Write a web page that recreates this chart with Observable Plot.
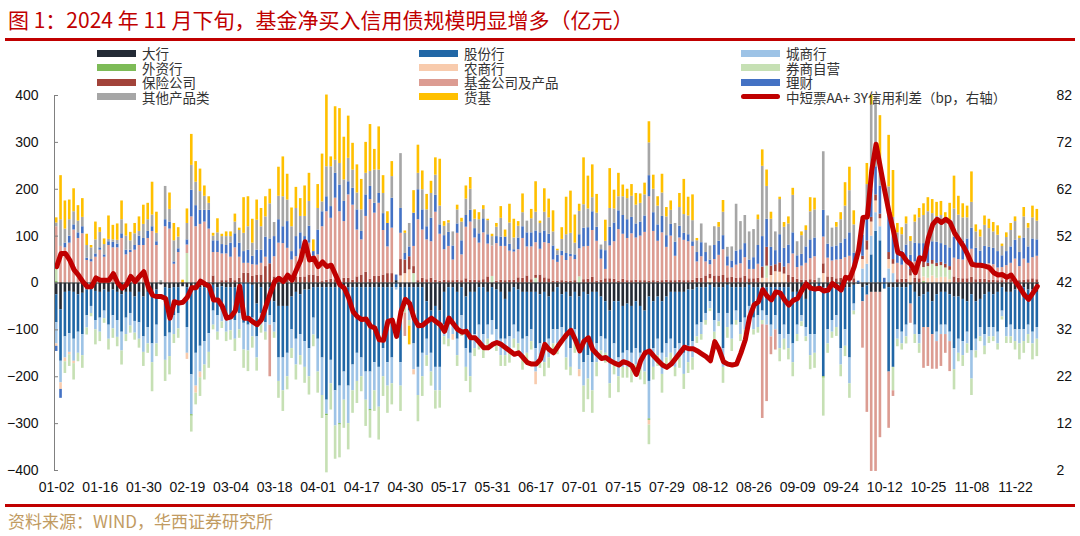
<!DOCTYPE html>
<html>
<head>
<meta charset="utf-8">
<script src="https://cdn.jsdelivr.net/npm/d3@7"></script>
<script src="https://cdn.jsdelivr.net/npm/@observablehq/plot@0.6"></script>
<style>
  html, body { margin: 0; padding: 0; background: #fff; }
  body { width: 1080px; height: 536px; position: relative; overflow: hidden; font-family: "Liberation Sans", Arial, sans-serif; }
  #title { position: absolute; left: 8px; top: 5px; font-family: "Noto Sans CJK SC", sans-serif; font-size: 21px; line-height: 28px; color: #c00000; white-space: nowrap; }
  .redrule { position: absolute; left: 5px; width: 1070px; height: 2.5px; background: #c00000; }
  #chart { position: absolute; left: 0; top: 40px; }
  #legend { position: absolute; left: 97px; top: 46px; display: grid; grid-template-columns: 322px 322px 322px; grid-auto-rows: 14.5px; z-index: 2; }
  .item { display: flex; align-items: center; height: 14.5px; white-space: nowrap; }
  .lab { display: block; height: 14px; line-height: 14px; font-family: "Noto Sans CJK SC", sans-serif; font-size: 13.5px; color: #333; overflow: visible; }
  .sw { width: 39px; height: 7px; margin-right: 6px; flex: none; }
  .swl { width: 39px; height: 5px; border-radius: 3px; margin-right: 6px; flex: none; }
  #source { position: absolute; left: 8px; top: 509px; font-family: "Noto Sans CJK SC", sans-serif; font-size: 17px; line-height: 24px; color: #c19b62; white-space: nowrap; }
</style>
</head>
<body>
<div id="title">图 1：2024 年 11 月下旬，基金净买入信用债规模明显增多（亿元）</div>
<div class="redrule" style="top:38px"></div>
<div id="chart"></div>
<div id="legend"></div>
<div class="redrule" style="top:504px"></div>
<div id="source">资料来源：WIND，华西证券研究所</div>
<script>
// ---------- categories (trading days of the interbank market, 2024) ----------
const dates = ("01-02 01-03 01-04 01-05 01-08 01-09 01-10 01-11 01-12 01-15 01-16 01-17 01-18 01-19 01-22 01-23 01-24 01-25 01-26 01-29 01-30 01-31 " +
"02-01 02-02 02-04 02-05 02-06 02-07 02-08 02-18 02-19 02-20 02-21 02-22 02-23 02-26 02-27 02-28 02-29 " +
"03-01 03-04 03-05 03-06 03-07 03-08 03-11 03-12 03-13 03-14 03-15 03-18 03-19 03-20 03-21 03-22 03-25 03-26 03-27 03-28 03-29 " +
"04-01 04-02 04-03 04-08 04-09 04-10 04-11 04-12 04-15 04-16 04-17 04-18 04-19 04-22 04-23 04-24 04-25 04-26 04-28 04-29 04-30 " +
"05-06 05-07 05-08 05-09 05-10 05-13 05-14 05-15 05-16 05-17 05-20 05-21 05-22 05-23 05-24 05-27 05-28 05-29 05-30 05-31 " +
"06-03 06-04 06-05 06-06 06-07 06-11 06-12 06-13 06-14 06-17 06-18 06-19 06-20 06-21 06-24 06-25 06-26 06-27 06-28 " +
"07-01 07-02 07-03 07-04 07-05 07-08 07-09 07-10 07-11 07-12 07-15 07-16 07-17 07-18 07-19 07-22 07-23 07-24 07-25 07-26 07-29 07-30 07-31 " +
"08-01 08-02 08-05 08-06 08-07 08-08 08-09 08-12 08-13 08-14 08-15 08-16 08-19 08-20 08-21 08-22 08-23 08-26 08-27 08-28 08-29 08-30 " +
"09-02 09-03 09-04 09-05 09-06 09-09 09-10 09-11 09-12 09-13 09-14 09-18 09-19 09-20 09-23 09-24 09-25 09-26 09-27 09-29 09-30 " +
"10-08 10-09 10-10 10-11 10-12 10-14 10-15 10-16 10-17 10-18 10-21 10-22 10-23 10-24 10-25 10-28 10-29 10-30 10-31 " +
"11-01 11-04 11-05 11-06 11-07 11-08 11-11 11-12 11-13 11-14 11-15 11-18 11-19 11-20 11-21 11-22 11-25 11-26 11-27 11-28 11-29").split(" ");

const xTickLabels = ["01-02","01-16","01-30","02-19","03-04","03-18","04-01","04-17","04-30","05-17","05-31","06-17","07-01","07-15","07-29","08-12","08-26","09-09","09-24","10-12","10-25","11-08","11-22"];
const yTicks = [-400, -300, -200, -100, 0, 100, 200, 300, 400];

// ---------- series values (亿元) ----------
const bigBank = [
-25,-57,-20,-18,-20,-25,-22,-15,-10,-18,
-20,-15,-20,-15,-20,-25,-20,-20,-30,-20,
-30,-20,-20,-15,-4,-10,-12,-10,-10,-8,
-10,-10,-10,-10,-10,-8,-5,-10,-8,-10,
-10,-10,-10,0,0,-5,-45,-10,-50,-10,
-40,-50,-50,-50,-30,-20,-25,-15,-15,-10,
-10,-10,-10,-10,-10,-10,-10,-10,-10,-10,
-10,-10,-10,-10,-10,-10,-10,-10,5,-10,
-10,-10,-10,-10,-10,-40,-60,-50,-60,-20,
-10,-10,-20,-10,-30,-20,-20,-10,-10,-20,
-10,-15,-20,-35,-20,-10,-15,-20,-20,-20,
-20,-25,-20,-30,-20,-10,-25,-20,-30,-20,
-30,-20,-25,-20,-20,-30,-40,-60,-40,-40,
-50,-45,-50,-40,-50,-60,-30,-40,-30,-40,
-30,-20,-20,-20,-20,-15,-15,-10,-10,-10,
-5,-10,-10,-10,-5,-10,-10,-10,-10,-5,
-10,-10,-10,-10,-10,-10,-10,-10,-10,-20,
-20,-20,-35,-10,-10,0,-10,-10,-10,-10,
-10,-10,-10,-5,0,-10,-6,-20,-20,-20,
0,-10,-10,-10,-10,-10,-5,-20,-30,-25,
-20,-40,-25,-20,-20,-25,-30,-30,-35,-40,
-25,-40,-35,-25,-20,-25,-20,-10,-20,-20,
-15,-10,-10,-15,-15,-20];

const jointStock = [
-60,-110,-95,-90,-100,-80,-88,-55,-40,-62,
-55,-45,-70,-55,-60,-80,-55,-45,-52,-65,
-85,-75,-110,-75,0,-105,-95,-60,-55,0,
-85,-186,-140,-125,-115,-100,-55,-60,-50,-60,
-60,-70,-55,-86,-90,-70,-70,-55,-35,-60,
-45,-110,-110,-100,-70,-100,-85,-110,-125,-65,
-110,-150,-240,-155,-220,-210,-180,-210,-165,-140,
-150,-180,-180,-160,-170,-130,-160,-150,-10,-160,
-40,-50,-120,-170,-140,-80,-90,-130,-120,-70,
-80,-75,-100,-60,-110,-130,-90,-80,-100,-70,
-70,-85,-100,-85,-95,-80,-90,-100,-95,-80,
-120,-105,-110,-90,-80,-90,-70,-100,-110,-80,
-110,-150,-130,-150,-110,-85,-80,-110,-90,-120,
-100,-100,-100,-100,-100,-90,-180,-100,-90,-110,
-100,-100,-120,-110,-130,-120,-110,-80,-75,-55,
-35,-70,-55,-130,-60,-80,-50,-75,-65,-45,
-65,-60,-50,-60,-80,-60,-100,-80,-100,-110,
-70,-50,-60,-100,-100,-8,-190,-90,-70,-60,
-130,-90,-150,-40,-3,-30,-20,60,110,90,
-13,-180,-170,-90,-95,-80,-40,-70,-80,-70,
-75,-70,-80,-70,-70,-80,-110,-90,-90,-65,
-120,-80,-60,-85,-75,-70,-85,-50,-75,-70,
-85,-90,-90,-75,-90,-75];

const cityBank = [
-45,-46,-45,-40,-47,-45,-45,-26,-15,-20,
-30,-16,-30,-28,-36,-40,-35,-27,-25,-35,
-33,-35,-40,-40,0,-50,-50,-40,-33,0,
-55,-85,-70,-55,-50,-40,-30,-35,-25,-35,
-32,-40,-35,-57,-55,-40,-45,-25,-20,-20,
-20,-50,-70,-50,-40,-55,-45,-55,-60,-36,
-70,-80,-30,-50,-75,-80,-60,-80,-55,-60,
-40,-60,-80,-60,-85,-60,-50,-55,-5,-50,
0,-20,-55,-60,-50,-35,-40,-50,-50,-25,
-30,-25,-35,-30,-40,-50,-30,-33,-30,-30,
-31,-30,-35,-35,-35,-30,-25,-40,-35,-25,
-50,-35,-40,-40,-30,-30,-25,-40,-40,-30,
-45,-50,-50,-60,-40,-30,-30,-45,-40,-40,
-30,-35,-35,-35,-35,-40,-80,-40,-35,-45,
-30,-30,-40,-30,-45,-35,-35,-25,-25,-15,
-15,-25,-18,-40,-30,-30,-20,-25,-25,-15,
-25,-25,-20,-20,-25,-30,-30,-30,-30,-40,
-20,-13,-20,-45,-40,0,0,-30,-25,-25,
-35,-35,-55,-15,0,30,40,40,40,30,
0,30,20,-20,-25,-25,0,-20,-20,0,
0,0,-20,-20,-20,-20,-45,-30,-30,-25,
-60,-25,-20,-25,-20,-20,-25,-12,-20,-25,
-25,-30,-25,-20,-25,-25];

const foreignBank = [
3,0,0,0,0,0,0,0,0,0,
0,0,0,0,0,0,0,0,0,0,
0,0,0,0,0,0,0,0,0,0,
0,-3,0,0,0,0,0,0,0,0,
0,0,0,0,0,0,0,0,0,0,
0,0,0,0,0,0,0,0,0,0,
0,0,-3,0,0,-3,0,0,0,0,
0,0,-3,0,0,0,0,0,0,0,
0,0,0,0,0,0,0,0,0,0,
0,0,0,0,0,0,0,0,0,0,
0,0,0,0,0,0,0,0,0,0,
0,0,0,0,0,0,0,0,0,0,
0,0,0,0,0,0,0,0,0,0,
0,0,0,0,0,0,-3,0,0,0,
0,0,0,0,0,0,0,0,0,0,
0,0,0,0,0,0,0,0,0,0,
0,0,0,0,0,0,0,0,0,0,
0,0,0,0,0,0,-3,0,0,0,
0,0,0,0,0,0,0,0,0,0,
0,0,0,0,0,0,0,0,0,3,
0,0,0,0,0,0,0,0,0,0,
0,0,0,0,0,0,0,0,0,0,
0,0,0,0,0,0];

const ruralBank = [
-5,-14,-8,-5,-5,0,0,0,0,0,
0,0,0,0,0,0,0,0,0,0,
0,0,0,0,0,0,0,0,0,0,
-13,0,-15,-12,0,0,0,0,0,0,
0,0,0,0,0,0,0,0,0,0,
0,0,0,0,0,0,0,0,0,0,
0,0,0,0,0,0,0,0,0,0,
0,0,0,0,0,0,0,0,0,15,
20,28,-11,0,0,0,0,0,0,0,
0,-12,0,0,0,0,0,0,0,0,
0,0,0,0,0,0,0,0,0,0,
-27,0,0,0,0,0,0,0,0,0,
-15,0,0,0,0,0,0,0,0,0,
0,0,0,0,0,0,-10,0,0,0,
0,0,0,0,0,0,0,0,0,0,
9,0,0,0,0,0,0,0,0,0,
0,0,10,10,16,24,23,19,0,0,
0,0,0,0,0,0,20,0,0,0,
0,0,0,0,0,20,30,30,25,17,
0,20,20,0,0,0,15,0,0,10,
10,15,10,12,12,7,0,0,0,0,
0,0,0,0,0,0,0,0,0,0,
0,0,0,0,0,0];

const broker = [
28,0,-25,-25,-35,-18,-27,-15,-7,-32,
-20,-10,-23,-20,-20,-30,-15,-15,-15,-19,
-30,-20,-62,-27,0,-45,-39,-19,-20,0,
63,-34,-25,-40,-32,-34,-10,-17,-14,-20,
-20,-26,-18,-39,-44,-24,-28,-17,-17,0,
-13,-36,-44,-28,-21,-32,-20,-34,-39,-25,
-45,-49,-122,-56,-71,-70,-60,-56,-48,-47,
-32,-56,-58,-44,-70,-42,-58,-45,0,-54,
-14,-12,20,-56,-42,-23,-30,-39,-37,-17,
-16,0,-23,-14,-30,-34,-17,-20,-21,-19,
14,-16,-23,-23,-21,-19,-20,-26,-21,-18,
10,-17,-30,-22,-20,-23,-9,-26,-18,-20,
13,-56,-44,-48,-30,-19,-21,-31,-26,-34,
-23,-23,-28,-21,-22,-27,-42,-27,-23,-40,
-22,-21,-20,-22,-32,-23,-26,-14,-12,-10,
-6,-17,-10,-34,-23,-26,-10,-15,-11,-10,
-11,-12,-9,26,0,0,-28,-23,-24,-30,
-15,-10,-10,-30,-32,0,-81,-20,-13,-19,
-25,-22,-31,-8,0,0,0,0,0,0,
0,0,-50,-16,-13,-15,0,-19,-20,20,
25,25,25,25,20,20,-43,-18,-23,-20,
-35,-15,-10,-18,-14,-10,-13,-7,-14,-14,
-18,-34,-25,-19,-34,-37];

const insurance = [
0,1,0,0,0,0,0,0,0,0,
0,0,0,0,0,0,0,0,0,0,
0,0,0,0,0,0,0,0,0,0,
0,0,0,0,0,0,15,0,5,5,
10,5,10,21,21,14,17,17,35,41,
13,14,9,10,13,13,12,13,17,17,
14,3,6,8,7,3,10,10,6,13,
17,23,8,14,14,17,20,20,0,35,
29,28,15,5,10,7,10,6,4,6,
5,5,6,5,9,6,6,5,7,13,
0,4,6,5,6,6,11,10,15,7,
6,17,11,9,4,4,5,4,4,5,
0,7,8,12,4,6,9,9,8,4,
8,5,5,6,5,5,4,5,4,5,
6,5,5,6,5,5,6,10,10,15,
10,15,15,16,11,12,10,11,14,9,
9,10,24,40,20,15,20,15,16,12,
8,6,6,7,6,0,21,13,12,9,
10,9,12,9,0,7,20,10,13,10,
0,15,10,7,8,8,14,10,9,11,
7,8,7,7,8,8,13,10,9,9,
12,7,8,8,6,6,5,5,7,7,
6,5,6,7,9,7];

const fundProducts = [
89,77,75,85,113,95,105,48,45,55,
70,55,80,75,75,95,60,65,70,80,
80,95,110,80,0,120,115,40,65,0,
18,141,120,125,130,115,50,65,57,57,
45,70,45,21,21,25,21,25,20,-110,
43,71,75,64,36,43,60,64,68,40,
46,117,146,130,174,149,121,178,160,100,
75,119,170,135,156,95,57,97,0,56,
-50,0,43,130,103,85,78,145,100,65,
73,44,100,55,110,124,90,80,100,70,
65,80,72,73,62,60,60,85,62,70,
70,55,75,75,45,40,53,44,52,45,
60,70,70,100,85,45,20,70,80,110,
96,90,100,90,95,103,180,105,85,102,
70,95,52,90,86,83,72,35,46,30,
20,35,44,55,25,20,28,30,40,20,
20,30,-200,-163,-38,-43,0,0,25,50,
25,30,36,45,50,0,57,40,35,40,
40,45,45,20,0,-99,-250,-382,-382,-310,
0,-120,-12,35,30,38,-41,35,35,-87,
-83,-74,-59,-68,-40,-64,40,40,40,45,
60,32,30,30,35,33,27,28,30,35,
45,30,45,35,45,50];

const wealthMgmt = [
-11,-19,10,15,11,12,15,5,5,7,
5,5,8,12,8,10,10,5,10,20,
15,15,10,8,0,15,15,5,8,0,
11,57,45,30,25,40,25,25,20,18,
30,30,30,25,28,18,32,28,43,53,
43,50,36,57,18,43,35,22,36,10,
53,32,32,25,53,57,43,28,36,43,
18,46,28,21,21,36,50,64,12,53,
14,21,71,64,43,28,50,36,20,30,
30,30,20,30,25,25,20,20,30,20,
0,15,20,20,15,5,25,25,30,30,
25,35,25,20,30,15,10,15,5,10,
30,40,40,40,30,20,40,40,40,40,
40,40,35,30,30,35,45,40,35,35,
25,25,30,25,15,15,10,20,30,20,
10,30,30,30,20,15,30,30,30,20,
25,40,65,60,40,30,60,40,40,45,
25,25,35,40,40,0,57,30,30,30,
35,40,50,35,4,45,60,60,60,60,
10,80,50,35,30,35,30,40,40,40,
45,40,45,40,40,40,45,45,40,40,
45,35,30,40,35,35,35,25,30,35,
40,30,45,35,40,35];

const otherProducts = [
8,57,30,35,28,25,20,27,25,30,
33,22,5,5,8,30,30,20,25,10,
30,25,25,18,5,71,27,45,25,0,
35,53,50,40,30,15,10,17,17,19,
14,25,27,39,50,28,64,50,43,75,
30,50,64,46,53,60,35,43,53,0,
46,21,64,85,28,46,46,50,39,36,
46,46,32,71,50,43,0,46,0,117,
43,50,0,35,43,36,53,43,40,20,
20,30,30,40,35,45,20,30,20,30,
20,20,40,0,45,25,25,30,25,30,
40,20,40,35,30,10,25,40,45,25,
50,50,40,30,30,10,20,40,30,30,
40,45,45,40,40,45,70,50,40,50,
40,30,40,40,40,40,45,25,40,20,
30,40,30,50,20,30,100,60,60,60,
60,55,150,70,60,40,75,45,45,80,
30,40,35,60,60,10,125,60,40,40,
50,70,90,60,0,30,60,180,150,50,
0,60,40,30,35,45,30,45,55,60,
65,60,55,60,50,60,60,50,50,45,
55,35,30,45,40,35,35,20,30,35,
40,30,45,40,45,40];

const moneyFunds = [
11,94,60,42,49,33,40,24,5,38,
10,12,50,31,35,40,26,18,22,31,
41,35,70,45,0,0,35,37,20,6,
31,66,44,48,22,14,6,30,5,10,
10,17,5,76,64,51,43,39,43,31,
0,62,85,55,40,45,38,65,60,25,
51,102,153,21,114,117,91,90,57,60,
65,66,100,44,92,38,25,32,0,0,
5,-40,48,60,40,33,26,37,100,10,
5,0,10,8,28,25,20,15,8,3,
5,8,25,15,40,40,10,40,0,20,
65,5,50,40,45,3,25,80,90,60,
15,100,70,70,40,0,45,85,40,50,
25,20,25,25,20,25,45,30,20,40,
20,20,0,30,75,40,55,5,0,0,
0,0,10,25,0,0,0,0,0,0,
0,10,35,35,15,0,5,10,15,15,
0,8,10,30,25,0,0,0,0,10,
15,50,50,30,0,10,45,21,0,100,
0,110,100,20,15,15,10,15,20,25,
30,30,30,30,20,35,70,40,30,25,
65,15,15,20,20,20,20,5,10,15,
10,5,20,10,25,25];

// 中短票AA+ 3Y 信用利差 (bp, right axis)
const creditSpread = [
45.5,48.3,48.3,46.9,44.8,43.7,42.3,41.2,41.2,43.1,
42.6,42.6,42.6,44.0,42.0,40.9,41.6,43.4,42.3,43.4,
44.4,41.2,39.4,39.1,39.1,38.7,34.5,38.0,37.7,37.9,
39.0,41.0,41.0,42.4,41.8,41.3,38.4,38.4,37.0,34.5,
34.8,36.1,41.3,34.5,34.5,33.7,33.1,34.2,37.0,39.8,
42.3,43.0,42.3,43.7,42.6,44.8,46.9,50.8,46.9,47.3,
45.5,46.5,45.5,45.8,43.7,41.6,40.9,38.8,35.9,34.8,
34.2,34.3,32.8,32.4,29.9,29.8,33.8,34.1,30.6,35.9,
38.5,37.6,34.5,32.9,33.0,33.8,34.5,33.8,33.1,31.7,
34.5,33.3,32.1,31.5,31.7,30.3,30.3,29.3,28.2,28.2,
28.9,29.3,28.9,28.2,27.5,26.8,27.1,26.1,25.0,24.7,
24.7,25.7,28.9,27.8,27.1,28.5,29.8,31.0,31.9,29.9,
27.5,29.6,30.3,27.8,26.8,25.9,26.1,25.4,24.9,24.5,
25.2,24.9,24.3,22.5,25.4,27.1,27.5,26.4,25.4,24.5,
24.0,24.7,25.9,27.1,28.3,28.0,28.0,27.5,26.9,26.3,
25.4,29.5,27.8,25.2,24.7,24.5,24.7,27.1,29.9,34.8,
37.3,38.0,40.6,39.2,38.4,40.1,39.9,38.4,37.3,38.3,
38.7,40.5,41.8,40.9,40.7,40.9,40.3,40.5,41.9,41.2,
40.5,43.2,43.0,45.5,49.0,56.0,56.1,65.9,71.6,66.6,
61.6,57.0,53.1,48.5,48.1,46.7,46.0,44.2,47.4,47.0,
51.6,54.5,55.6,54.9,55.6,54.9,52.7,51.3,49.9,48.1,
46.0,45.8,45.8,45.6,45.3,44.2,43.7,43.8,43.2,43.7,
42.3,41.0,39.5,38.5,39.9,41.3];

const seriesNames = ["大行","股份行","城商行","外资行","农商行","券商自营","保险公司","基金公司及产品","理财","其他产品类","货基"];
const seriesColors = ["#232a35","#2167a6","#9dc3e6","#7dbb57","#f8cbad","#c6e0b4","#a2433a","#dc9c92","#4472c4","#a6a6a6","#ffc000"];
const seriesValues = [bigBank, jointStock, cityBank, foreignBank, ruralBank, broker, insurance, fundProducts, wealthMgmt, otherProducts, moneyFunds];
const lineName = "中短票AA+ 3Y信用利差（bp，右轴）";
const lineColor = "#c00000";

// ---------- build ----------
const n = dates.length;
seriesValues.forEach((arr, k) => { if (arr.length !== n) throw new Error(seriesNames[k] + " length " + arr.length + " != " + n); });
if (creditSpread.length !== n) throw new Error("spread length " + creditSpread.length);

const rows = [];
seriesValues.forEach((arr, k) => arr.forEach((v, i) => rows.push({i, s: seriesNames[k], v})));
const spreadRows = creditSpread.map((v, i) => ({i, v}));
// right axis (2..82 bp) shares the pixel range of the left axis (-400..400)
const toLeft = bp => (bp - 42) * 10;
const fromLeft = y => y / 10 + 42;
const tickIdx = xTickLabels.map(t => dates.indexOf(t));

const chart = Plot.plot({
  width: 1080,
  height: 460,
  marginLeft: 54,
  marginRight: 41,
  marginTop: 55,
  marginBottom: 30,
  style: {fontFamily: "'Liberation Sans', Arial, sans-serif", fontSize: "14px", color: "#111", background: "transparent", overflow: "visible"},
  x: {type: "band", domain: d3.range(n), paddingInner: 0.4, paddingOuter: 0.2, align: 0.5, label: null},
  y: {domain: [-400, 400], label: null},
  color: {domain: seriesNames, range: seriesColors},
  marks: [
    Plot.barY(rows, {x: "i", y: "v", fill: "s"}),
    Plot.ruleY([0], {stroke: "#333", strokeWidth: 1}),
    Plot.line(spreadRows, {x: "i", y: d => toLeft(d.v), stroke: lineColor, strokeWidth: 5, strokeLinejoin: "round", strokeLinecap: "round"}),
    Plot.frame({anchor: "left", stroke: "#808080"}),
    Plot.axisY({ticks: yTicks, tickSize: -4, tickPadding: 20, stroke: "#808080", label: null}),
    Plot.axisY({anchor: "right", ticks: yTicks, tickSize: 0, tickPadding: 17, tickFormat: fromLeft, label: null}),
    Plot.axisX({ticks: tickIdx, tickSize: 0, tickPadding: 12, tickFormat: i => dates[i], label: null})
  ]
});
document.getElementById("chart").appendChild(chart);

// ---------- legend ----------
const legend = document.getElementById("legend");
seriesNames.forEach((name, k) => {
  const it = document.createElement("div");
  it.className = "item";
  it.innerHTML = `<span class="sw" style="background:${seriesColors[k]}"></span><span class="lab">${name}</span>`;
  legend.appendChild(it);
});
const li = document.createElement("div");
li.className = "item";
li.innerHTML = `<span class="swl" style="background:${lineColor}"></span><span class="lab">${lineName}</span>`;
legend.appendChild(li);
</script>
</body>
</html>
